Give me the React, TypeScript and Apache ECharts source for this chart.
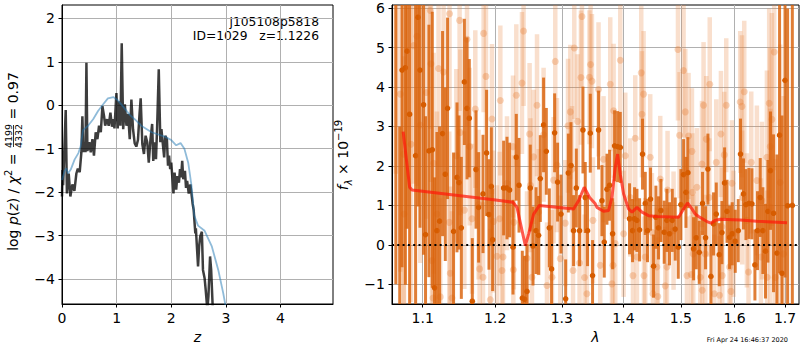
import { useEffect, useRef } from "react";
import * as echarts from "echarts";

const FONT = "DejaVu Sans";

// ---------- left panel: log p(z) ----------
const zTicks = [0, 1, 2, 3, 4];
const logpTicks = [-4, -3, -2, -1, 0, 1, 2];

const pzZ = [0.0, 0.01, 0.02, 0.068, 0.09, 0.123, 0.153, 0.19, 0.227, 0.263, 0.29, 0.324, 0.355, 0.373, 0.39, 0.41, 0.43, 0.447, 0.465, 0.5, 0.526, 0.557, 0.585, 0.617, 0.648, 0.678, 0.71, 0.74, 0.77, 0.79, 0.825, 0.855, 0.886, 0.915, 0.946, 0.96, 0.996, 1.02, 1.04, 1.07, 1.093, 1.12, 1.15, 1.18, 1.21, 1.24, 1.27, 1.3, 1.33, 1.36, 1.39, 1.42, 1.44, 1.47, 1.5, 1.53, 1.56, 1.588, 1.62, 1.65, 1.67, 1.7, 1.72, 1.74, 1.771, 1.8, 1.82, 1.84, 1.87, 1.89, 1.92, 1.94, 1.96, 1.98, 2.0, 2.04, 2.06, 2.09, 2.11, 2.14, 2.16, 2.18, 2.2, 2.22, 2.25, 2.27, 2.29, 2.32, 2.35, 2.39, 2.41, 2.44, 2.45, 2.49, 2.51, 2.53, 2.56, 2.58, 2.61, 2.63, 2.66, 2.68, 2.71, 2.73, 2.76, 2.8];
const pzLog = [-2.1, -1.49, -1.84, -0.11, -2.03, -1.57, -2.1, -1.82, -1.97, -1.57, -1.46, -1.54, -1.08, -0.25, -1.08, -0.85, -1.08, 0.98, -1.05, -0.85, -1.08, -0.78, -1.16, -0.62, -0.78, -0.47, -0.62, -0.02, -0.25, -0.47, -0.32, -0.47, -0.17, -0.49, -0.32, -0.53, 0.28, -0.53, 0.09, -0.47, 1.43, -0.55, 0.02, -0.47, -0.2, -0.78, 0.13, -0.55, -0.87, -0.95, -0.8, -0.18, 0.16, -0.89, -1.12, -0.7, -0.85, -1.32, -0.78, -0.43, -1.28, -0.85, -1.24, -0.55, 0.83, -0.85, -0.55, -0.82, -1.2, -0.7, -0.78, -1.39, -1.16, -1.47, -1.32, -2.03, -1.55, -1.94, -1.63, -1.78, -1.47, -1.66, -1.28, -1.7, -1.51, -1.9, -1.74, -2.03, -1.82, -2.26, -2.41, -2.95, -2.83, -3.71, -3.25, -3.02, -2.91, -3.79, -3.98, -4.25, -4.7, -4.4, -3.48, -3.79, -4.7, -5.6];

const tplZ = [0.0, 0.05, 0.08, 0.11, 0.16, 0.23, 0.3, 0.34, 0.386, 0.477, 0.57, 0.66, 0.75, 0.84, 0.94, 1.01, 1.12, 1.24, 1.33, 1.45, 1.64, 1.88, 2.0, 2.09, 2.17, 2.24, 2.31, 2.37, 2.42, 2.49, 2.61, 2.74, 2.86, 2.95, 3.02];
const tplLog = [-1.72, -1.5, -1.45, -1.57, -1.48, -1.25, -1.1, -0.95, -0.57, -0.47, -0.32, -0.13, 0.02, 0.16, 0.19, 0.13, -0.03, -0.22, -0.32, -0.47, -0.62, -0.72, -0.8, -0.92, -0.87, -1.0, -1.32, -1.85, -2.54, -2.77, -2.89, -3.24, -3.79, -4.32, -4.8];

// ---------- right panel: spectrum ----------
const lamTicks = [1.1, 1.2, 1.3, 1.4, 1.5, 1.6, 1.7];
const fluxTicks = [-1, 0, 1, 2, 3, 4, 5, 6];

const darkLam = [1.065, 1.07, 1.073, 1.0773, 1.0795, 1.0828, 1.0906, 1.0938, 1.0964, 1.1011, 1.1037, 1.1082, 1.1127, 1.1157, 1.1189, 1.1225, 1.1265, 1.1302, 1.1333, 1.1415, 1.1462, 1.149, 1.1522, 1.1564, 1.1601, 1.1633, 1.1675, 1.1727, 1.1764, 1.1826, 1.1877, 1.1911, 1.1945, 1.1964, 1.2123, 1.2172, 1.221, 1.226, 1.2309, 1.2349, 1.2398, 1.2432, 1.2468, 1.2517, 1.2558, 1.2604, 1.2643, 1.2669, 1.2719, 1.2761, 1.2807, 1.2842, 1.2889, 1.2935, 1.2988, 1.3061, 1.3103, 1.3145, 1.3186, 1.3229, 1.3281, 1.3335, 1.3372, 1.3409, 1.3453, 1.349, 1.3588, 1.3643, 1.3681, 1.3726, 1.3769, 1.3819, 1.3852, 1.3902, 1.3947, 1.4103, 1.4154, 1.4188, 1.4229, 1.4274, 1.4325, 1.4372, 1.4411, 1.4463, 1.4516, 1.4557, 1.4603, 1.4645, 1.4703, 1.4751, 1.4797, 1.4846, 1.4899, 1.4953, 1.5001, 1.5049, 1.5092, 1.5128, 1.5231, 1.528, 1.5335, 1.5396, 1.5452, 1.5496, 1.5552, 1.5601, 1.5652, 1.5708, 1.5759, 1.5809, 1.5855, 1.5904, 1.5955, 1.6013, 1.6071, 1.6115, 1.6173, 1.622, 1.6278, 1.6337, 1.6396, 1.6447, 1.6501, 1.6554, 1.6606, 1.6654, 1.6706, 1.6767, 1.6836, 1.6889, 1.6938, 1.7, 1.7053, 1.715];
const darkFlux = [8.0, -3.0, 4.43, 4.49, 4.91, 3.31, 2.26, 5.77, 4.43, 3.55, 0.26, 2.38, 2.41, -1.09, 0.36, 0.6, 2.82, 1.79, 3.46, 0.34, 1.71, 1.58, 0.43, 4.13, 3.46, 3.21, -1.43, 1.91, 0.95, 1.29, 2.33, 0.77, 1.48, 0.13, 1.44, 1.44, 1.39, -0.06, 2.22, 1.51, -1.35, -1.38, -1.18, 1.44, -0.03, 0.36, 0.24, 1.68, 3.04, 2.37, 0.43, -0.61, 2.84, 1.59, 0.78, -1.37, 1.82, 2.01, 0.36, 1.44, 0.36, 2.91, 1.2, 0.36, 2.83, -0.78, 2.91, 1.12, 0.07, 1.41, 1.51, 0.28, 2.51, 2.49, 2.47, 0.66, 0.36, 0.66, 0.62, 0.38, 2.3, 1.05, 0.36, 1.16, -0.54, 0.7, 0.43, 0.87, 0.32, 0.62, 0.28, 0.62, 0.4, -0.06, 1.02, 1.78, 1.33, 1.83, -0.1, 0.18, -0.19, 1.05, 0.18, 1.92, -0.8, 0.53, 0.78, -0.25, 0.31, 1.57, 0.85, 0.19, 0.28, 0.09, 0.36, 2.3, 1.29, 1.02, 1.05, 1.04, -0.51, 0.36, 1.2, 0.36, -0.16, 0.85, 1.88, 0.8, -0.21, 2.78, -0.72, 4.17, 0.99, 1.0];
const darkErr = [9.0, 6.0, 5.0, 5.5, 4.5, 5.0, 4.5, 4.8, 4.0, 3.8, 3.0, 3.2, 3.5, 2.8, 2.5, 2.4, 2.6, 2.2, 2.3, 2.0, 1.9, 1.7, 1.8, 1.6, 1.8, 1.5, 1.6, 1.5, 1.4, 1.5, 1.6, 1.4, 1.5, 1.3, 1.2, 1.3, 1.2, 1.2, 1.1, 1.2, 1.2, 1.1, 1.2, 1.1, 1.0, 1.1, 1.0, 1.1, 1.2, 1.1, 1.0, 1.1, 1.0, 1.0, 1.0, 1.0, 1.0, 1.1, 0.9, 1.0, 0.9, 1.1, 0.9, 0.9, 1.0, 0.9, 1.0, 0.9, 0.9, 0.9, 0.9, 0.9, 0.9, 0.9, 0.9, 0.9, 0.8, 0.8, 0.8, 0.8, 0.9, 0.8, 0.8, 0.8, 0.8, 0.8, 0.8, 0.8, 0.8, 0.8, 0.8, 0.8, 0.8, 0.8, 0.9, 0.9, 0.9, 0.9, 0.8, 0.8, 0.8, 0.8, 0.8, 0.9, 0.8, 0.8, 0.8, 0.8, 0.8, 0.9, 0.8, 0.8, 0.8, 0.8, 0.8, 0.9, 0.9, 0.9, 0.9, 0.9, 0.9, 1.0, 1.0, 1.1, 1.2, 1.3, 1.5, 2.0, 2.5, 3.5, 4.0, 5.0, 5.0, 6.0];

const lightLam = [1.065, 1.0708, 1.075, 1.0755, 1.0846, 1.088, 1.0924, 1.0968, 1.1047, 1.11, 1.1109, 1.1123, 1.1136, 1.1144, 1.1189, 1.1211, 1.1234, 1.1279, 1.1356, 1.136, 1.137, 1.1393, 1.1453, 1.1498, 1.1508, 1.1564, 1.1601, 1.1638, 1.1671, 1.1717, 1.1764, 1.1778, 1.1826, 1.1835, 1.1868, 1.193, 1.1954, 1.1977, 1.2026, 1.2064, 1.2075, 1.2099, 1.2114, 1.2172, 1.226, 1.2265, 1.2272, 1.2309, 1.2393, 1.2417, 1.2468, 1.2507, 1.252, 1.2543, 1.2568, 1.2619, 1.2643, 1.2719, 1.2771, 1.2848, 1.2873, 1.2899, 1.2925, 1.2977, 1.3055, 1.3098, 1.3134, 1.3161, 1.3177, 1.3197, 1.325, 1.3281, 1.3303, 1.3319, 1.3361, 1.3398, 1.344, 1.3458, 1.348, 1.3496, 1.3587, 1.3615, 1.3669, 1.378, 1.3808, 1.3825, 1.3836, 1.3863, 1.3947, 1.4003, 1.4031, 1.4115, 1.4161, 1.42, 1.4229, 1.4303, 1.4315, 1.4343, 1.435, 1.4372, 1.4458, 1.4487, 1.4505, 1.4575, 1.459, 1.4633, 1.4721, 1.4751, 1.4762, 1.4869, 1.4948, 1.4977, 1.5049, 1.508, 1.511, 1.5139, 1.5188, 1.5201, 1.521, 1.5225, 1.5292, 1.5354, 1.5385, 1.539, 1.5415, 1.5446, 1.5465, 1.5521, 1.553, 1.5615, 1.5652, 1.5714, 1.574, 1.5759, 1.5765, 1.5803, 1.5841, 1.5904, 1.593, 1.5949, 1.5981, 1.6109, 1.6142, 1.6148, 1.6187, 1.6239, 1.6271, 1.6324, 1.6435, 1.6515, 1.6535, 1.6634, 1.664, 1.668, 1.67, 1.6705, 1.6734, 1.6781, 1.6801, 1.6902, 1.697];
const lightFlux = [6.8, 3.82, 2.3, 0.78, 2.55, 5.05, 5.29, 3.04, 3.86, 5.94, 4.59, -0.4, -1.35, 2.07, 0.78, 4.47, -1.32, 4.38, 0.57, 5.86, -0.72, -1.35, 2.26, 5.69, 2.85, 0.88, 5.21, 2.49, 0.66, 3.44, 1.02, -0.61, -0.82, 5.36, 4.27, -1.39, 3.19, 0.59, -0.29, 0.66, 3.66, -0.65, -0.31, 1.56, 2.49, -0.63, 0.57, 3.79, 4.1, 5.42, -0.34, 2.81, 1.51, -0.82, 2.23, 3.54, 0.83, 2.79, -1.03, -0.82, 1.64, 4.65, 2.02, -0.35, 0.55, 3.02, 3.37, 1.92, -0.65, 4.99, 3.13, -0.46, 4.24, 5.79, -0.83, -1.24, 4.25, 4.57, 4.15, 0.62, 3.94, -0.52, 2.17, 4.07, -0.99, -0.52, 3.4, 0.03, 4.68, 0.28, 2.26, 1.2, -0.78, 2.7, -0.31, 4.36, 3.31, 3.82, -0.78, -0.31, 2.22, 0.32, -1.24, -0.56, -1.31, 1.67, -1.04, -0.56, 1.39, 0.36, 4.95, 2.78, 4.42, 3.37, -0.78, 2.76, -0.75, 2.37, 1.33, -0.23, 1.46, -0.82, 2.05, -1.15, 3.54, -0.23, 2.68, 1.2, 4.07, -1.24, 2.09, -1.28, 2.81, 0.46, -0.78, 2.28, 3.54, -0.56, -1.18, 1.56, 0.28, 3.62, 3.51, 1.2, 3.88, 0.62, -0.69, 2.09, 1.63, -0.31, 1.12, 2.22, -0.82, 3.59, 2.49, 0.95, 3.18, 4.89, -0.83, 1.58, -0.23];
const lightErr = [5.0, 4.5, 4.0, 4.0, 4.0, 3.5, 3.8, 3.5, 3.2, 3.0, 3.0, 2.8, 2.6, 2.8, 2.6, 2.5, 2.5, 2.4, 2.3, 2.4, 2.2, 2.2, 2.2, 2.3, 2.1, 2.0, 2.2, 2.0, 1.9, 2.0, 1.9, 1.8, 1.9, 2.0, 1.9, 1.8, 1.9, 1.8, 1.8, 1.7, 1.9, 1.7, 1.8, 1.7, 1.8, 1.7, 1.7, 1.8, 1.8, 1.9, 1.7, 1.8, 1.7, 1.7, 1.7, 1.8, 1.6, 1.7, 1.6, 1.7, 1.6, 1.8, 1.7, 1.6, 1.6, 1.7, 1.7, 1.6, 1.6, 1.8, 1.7, 1.6, 1.7, 1.8, 1.6, 1.6, 1.7, 1.7, 1.7, 1.6, 1.7, 1.6, 1.6, 1.7, 1.6, 1.6, 1.7, 1.6, 1.7, 1.6, 1.6, 1.5, 1.5, 1.6, 1.5, 1.7, 1.6, 1.6, 1.5, 1.5, 1.6, 1.5, 1.5, 1.5, 1.5, 1.6, 1.5, 1.5, 1.5, 1.5, 1.8, 1.6, 1.7, 1.6, 1.5, 1.6, 1.5, 1.6, 1.5, 1.5, 1.5, 1.5, 1.6, 1.5, 1.6, 1.5, 1.6, 1.5, 1.7, 1.5, 1.6, 1.5, 1.6, 1.5, 1.5, 1.6, 1.7, 1.6, 1.6, 1.6, 1.6, 1.8, 1.8, 1.7, 1.8, 1.7, 1.7, 1.8, 1.9, 2.0, 2.0, 2.2, 2.2, 2.4, 2.5, 2.5, 2.7, 3.0, 3.0, 3.5, 4.0];

const modelLam = [1.0744, 1.0828, 1.0859, 1.1977, 1.2259, 1.2319, 1.2394, 1.2443, 1.2493, 1.2568, 1.2655, 1.3186, 1.3266, 1.3356, 1.3442, 1.3534, 1.3561, 1.3669, 1.3752, 1.3808, 1.3863, 1.3902, 1.3947, 1.4003, 1.4087, 1.4145, 1.4229, 1.4315, 1.4429, 1.4573, 1.4959, 1.5049, 1.5121, 1.5201, 1.5262, 1.5323, 1.5478, 1.5552, 1.5633, 1.5727, 1.6109, 1.6435, 1.7041];
const modelFlux = [2.87, 1.46, 1.39, 1.14, 1.08, 0.95, 0.36, -0.02, 0.28, 0.78, 1.0, 0.91, 1.12, 1.46, 1.2, 1.04, 0.95, 0.85, 0.87, 1.2, 1.96, 2.3, 1.79, 1.29, 0.91, 0.83, 0.95, 0.83, 0.74, 0.72, 0.7, 0.91, 1.06, 0.91, 0.78, 0.72, 0.59, 0.55, 0.62, 0.65, 0.63, 0.6, 0.56];

const lamMin = 1.0601;
const lamMax = 1.7288;

const minus = (s: string) => s.replace("-", "\u2212");

function errItem(barColor: string, dotColor: string, barW: number, r: number) {
  return (_params: any, api: any) => {
    const x = api.value(0);
    const y = api.value(1);
    const e = api.value(2);
    const c = api.coord([x, y]);
    const t = api.coord([x, y + e]);
    const b = api.coord([x, y - e]);
    return {
      type: "group",
      children: [
        { type: "line", shape: { x1: c[0], y1: t[1], x2: c[0], y2: b[1] }, style: { stroke: barColor, lineWidth: barW } },
        { type: "circle", shape: { cx: c[0], cy: c[1], r }, style: { fill: dotColor } },
      ],
    };
  };
}

export default function App() {
  const ref = useRef<HTMLDivElement>(null);
  useEffect(() => {
    const chart = echarts.init(ref.current!, null, { renderer: "svg" });

    const axisLine = { show: true, onZero: false, lineStyle: { color: "#000", width: 1 } };
    const tickStyle = { show: true, inside: false, length: 3.5, lineStyle: { color: "#000", width: 1 } };
    const labelStyle = { color: "#000", fontFamily: FONT, fontSize: 14 };
    const splitLine = { show: true, lineStyle: { color: "#b0b0b0", width: 1 } };

    const lnTicks = lamTicks.map((v) => Math.log(v));

    const option: any = {
      animation: false,
      grid: [
        { left: 62, top: 5, width: 271, height: 299, show: true, borderColor: "#000", borderWidth: 1, backgroundColor: "transparent", outerBoundsMode: "none" },
        { left: 392, top: 5, width: 407, height: 299, show: true, borderColor: "#000", borderWidth: 1, backgroundColor: "transparent", outerBoundsMode: "none" },
      ],
      xAxis: [
        {
          type: "value", gridIndex: 0, min: 0, max: 4.96,
          axisLine, splitLine,
          axisTick: { ...tickStyle, customValues: zTicks },
          axisLabel: { ...labelStyle, margin: 7, customValues: zTicks, formatter: (v: number) => String(v) },
          name: "z", nameLocation: "middle", nameGap: 24,
          nameTextStyle: { fontFamily: FONT, fontSize: 14, fontStyle: "italic", color: "#000" },
        },
        {
          type: "value", gridIndex: 1, min: Math.log(lamMin), max: Math.log(lamMax),
          axisLine, splitLine,
          axisTick: { ...tickStyle, customValues: lnTicks },
          axisLabel: { ...labelStyle, margin: 7, customValues: lnTicks, formatter: (v: number) => Math.exp(v).toFixed(1) },
          name: "λ", nameLocation: "middle", nameGap: 24,
          nameTextStyle: { fontFamily: FONT, fontSize: 14, fontStyle: "italic", color: "#000" },
        },
      ],
      yAxis: [
        {
          type: "value", gridIndex: 0, min: -4.575, max: 2.31,
          axisLine, splitLine,
          axisTick: { ...tickStyle, customValues: logpTicks },
          axisLabel: { ...labelStyle, margin: 7, customValues: logpTicks, formatter: (v: number) => minus(String(v)) },
        },
        {
          type: "value", gridIndex: 1, min: -1.5, max: 6.08,
          axisLine, splitLine,
          axisTick: { ...tickStyle, customValues: fluxTicks },
          axisLabel: { ...labelStyle, margin: 7, customValues: fluxTicks, formatter: (v: number) => minus(String(v)) },
        },
      ],
      series: [
        {
          type: "line", xAxisIndex: 0, yAxisIndex: 0, z: 2,
          data: pzZ.map((z, i) => [z, pzLog[i]]),
          showSymbol: false, symbol: "none",
          lineStyle: { color: "rgba(0,0,0,0.76)", width: 2.5 },
        },
        {
          type: "line", xAxisIndex: 0, yAxisIndex: 0, z: 3,
          data: tplZ.map((z, i) => [z, tplLog[i]]),
          showSymbol: false, symbol: "none",
          lineStyle: { color: "rgba(31,119,180,0.5)", width: 1.8 },
        },
        {
          type: "custom", xAxisIndex: 1, yAxisIndex: 1, z: 1, clip: true,
          data: lightLam.map((l, i) => [Math.log(l), lightFlux[i], lightErr[i]]),
          encode: { x: 0, y: 1 },
          renderItem: errItem("rgba(232,128,55,0.25)", "rgba(232,128,55,0.33)", 4.5, 3.5),
        },
        {
          type: "custom", xAxisIndex: 1, yAxisIndex: 1, z: 2, clip: true,
          data: darkLam.map((l, i) => [Math.log(l), darkFlux[i], darkErr[i]]),
          encode: { x: 0, y: 1 },
          renderItem: errItem("rgba(217,98,10,0.82)", "rgb(214,92,0)", 3, 2.8),
        },
        {
          type: "line", xAxisIndex: 1, yAxisIndex: 1, z: 4,
          data: modelLam.map((l, i) => [Math.log(l), modelFlux[i]]),
          showSymbol: false, symbol: "none",
          lineStyle: { color: "rgba(255,25,10,0.72)", width: 3 },
          markLine: {
            silent: true, symbol: ["none", "none"], label: { show: false },
            lineStyle: { color: "#000", type: [2, 3.3], width: 2 },
            data: [{ yAxis: 0 }],
            z: 3,
          },
        },
      ],
      graphic: [
        {
          type: "text", x: 319, y: 21.5,
          style: { text: "j105108p5818", fontFamily: FONT, fontSize: 12.3, fill: "#000", align: "right", verticalAlign: "middle" },
        },
        {
          type: "text", x: 319, y: 36,
          style: { text: "ID=1029   z=1.1226", fontFamily: FONT, fontSize: 12.3, fill: "#000", align: "right", verticalAlign: "middle" },
        },
        {
          type: "text", x: 788, y: 339.5,
          style: { text: "Fri Apr 24 16:46:37 2020", fontFamily: FONT, fontSize: 6.5, fill: "#000", align: "right", verticalAlign: "middle" },
        },
        {
          type: "group", x: 13, y: 152, rotation: Math.PI / 2,
          children: [
            {
              type: "text", x: 3, y: 0,
              style: {
                text: "{n|log }{i|p}{n|(}{i|z}{n|) / }{i|χ}{s|2}{n| = }",
                align: "right", verticalAlign: "middle", fill: "#000",
                rich: {
                  n: { fontFamily: FONT, fontSize: 14, lineHeight: 20, fill: "#000" },
                  i: { fontFamily: FONT, fontSize: 14, lineHeight: 20, fontStyle: "italic", fill: "#000" },
                  s: { fontFamily: FONT, fontSize: 10, lineHeight: 12, verticalAlign: "top", fill: "#000" },
                },
              },
            },
            {
              type: "text", x: 16, y: -4.5,
              style: { text: "4199", fontFamily: FONT, fontSize: 9.5, fill: "#000", align: "center", verticalAlign: "middle" },
            },
            {
              type: "line", shape: { x1: 5, y1: 0.5, x2: 27, y2: 0.5 }, style: { stroke: "#000", lineWidth: 0.8 },
            },
            {
              type: "text", x: 16, y: 5.5,
              style: { text: "4332", fontFamily: FONT, fontSize: 9.5, fill: "#000", align: "center", verticalAlign: "middle" },
            },
            {
              type: "text", x: 28, y: 0,
              style: { text: " = 0.97", fontFamily: FONT, fontSize: 14, fill: "#000", align: "left", verticalAlign: "middle" },
            },
          ],
        },
        {
          type: "group", x: 343, y: 155, rotation: Math.PI / 2,
          children: [
            {
              type: "text", x: 0, y: 0,
              style: {
                text: "{i|f}{sub|λ}{n| × 10}{sup|−19}",
                align: "center", verticalAlign: "middle", fill: "#000",
                rich: {
                  n: { fontFamily: FONT, fontSize: 14, lineHeight: 20, fill: "#000" },
                  i: { fontFamily: FONT, fontSize: 14, lineHeight: 20, fontStyle: "italic", fill: "#000" },
                  sub: { fontFamily: FONT, fontSize: 10, lineHeight: 12, fontStyle: "italic", verticalAlign: "bottom", fill: "#000" },
                  sup: { fontFamily: FONT, fontSize: 10, lineHeight: 12, verticalAlign: "top", fill: "#000" },
                },
              },
            },
          ],
        },
      ],
    };

    chart.setOption(option);
    return () => chart.dispose();
  }, []);

  return <div ref={ref} style={{ position: "absolute", left: 0, top: 0, width: 800, height: 350 }} />;
}
